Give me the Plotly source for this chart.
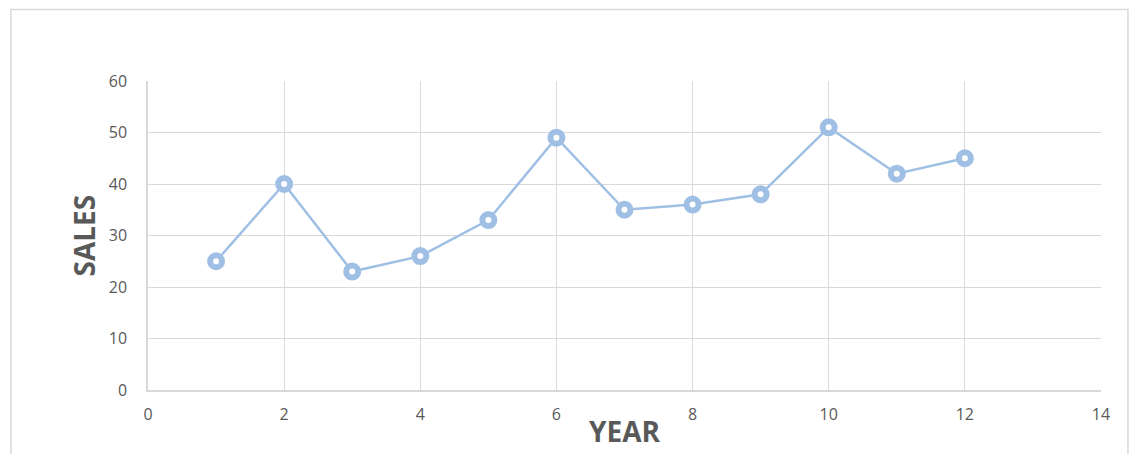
import plotly.graph_objects as go

# Sales by year
years = [1, 2, 3, 4, 5, 6, 7, 8, 9, 10, 11, 12]
sales = [25, 40, 23, 26, 33, 49, 35, 36, 38, 51, 42, 45]

x_ticks = [0, 2, 4, 6, 8, 10, 12, 14]
y_ticks = [0, 10, 20, 30, 40, 50, 60]

blue = "#9FC0E4"
grid = "#D9D9D9"
text_gray = "#595959"

fig = go.Figure()
fig.add_trace(go.Scatter(
    x=years,
    y=sales,
    mode="lines+markers",
    line=dict(color=blue, width=2.5),
    marker=dict(size=12, color="white", line=dict(color=blue, width=6)),
    showlegend=False,
))

fig.update_layout(
    width=1136,
    height=446,
    margin=dict(l=140, r=43, t=73, b=64),
    paper_bgcolor="white",
    plot_bgcolor="white",
    font=dict(family="Open Sans", color=text_gray, size=16),
    xaxis=dict(
        range=[0, 14],
        tickvals=x_ticks,
        showgrid=True,
        gridcolor=grid,
        gridwidth=1,
        showline=True,
        linecolor=grid,
        linewidth=1.5,
        zeroline=False,
        ticklabelstandoff=9,
    ),
    yaxis=dict(
        range=[0, 60],
        tickvals=y_ticks,
        showgrid=True,
        gridcolor=grid,
        gridwidth=1,
        showline=True,
        linecolor=grid,
        linewidth=1.5,
        zeroline=False,
        ticklabelstandoff=16,
    ),
    annotations=[
        dict(text="<b>YEAR</b>", xref="paper", yref="paper", x=0.5, y=0,
             xanchor="center", yanchor="top", yshift=-20, showarrow=False,
             font=dict(size=28, color=text_gray)),
        dict(text="<b>SALES</b>", xref="paper", yref="paper", x=0, y=0.5,
             xanchor="center", yanchor="middle", xshift=-65, textangle=-90,
             showarrow=False, font=dict(size=28, color=text_gray)),
    ],
    shapes=[dict(
        type="rect", xref="paper", yref="paper",
        x0=-0.1438, x1=1.0283, y0=-0.25, y1=1.231,
        line=dict(color="#D9D9D9", width=1.5),
        fillcolor="rgba(0,0,0,0)", layer="below",
    )],
)

fig.write_html("out.html")
